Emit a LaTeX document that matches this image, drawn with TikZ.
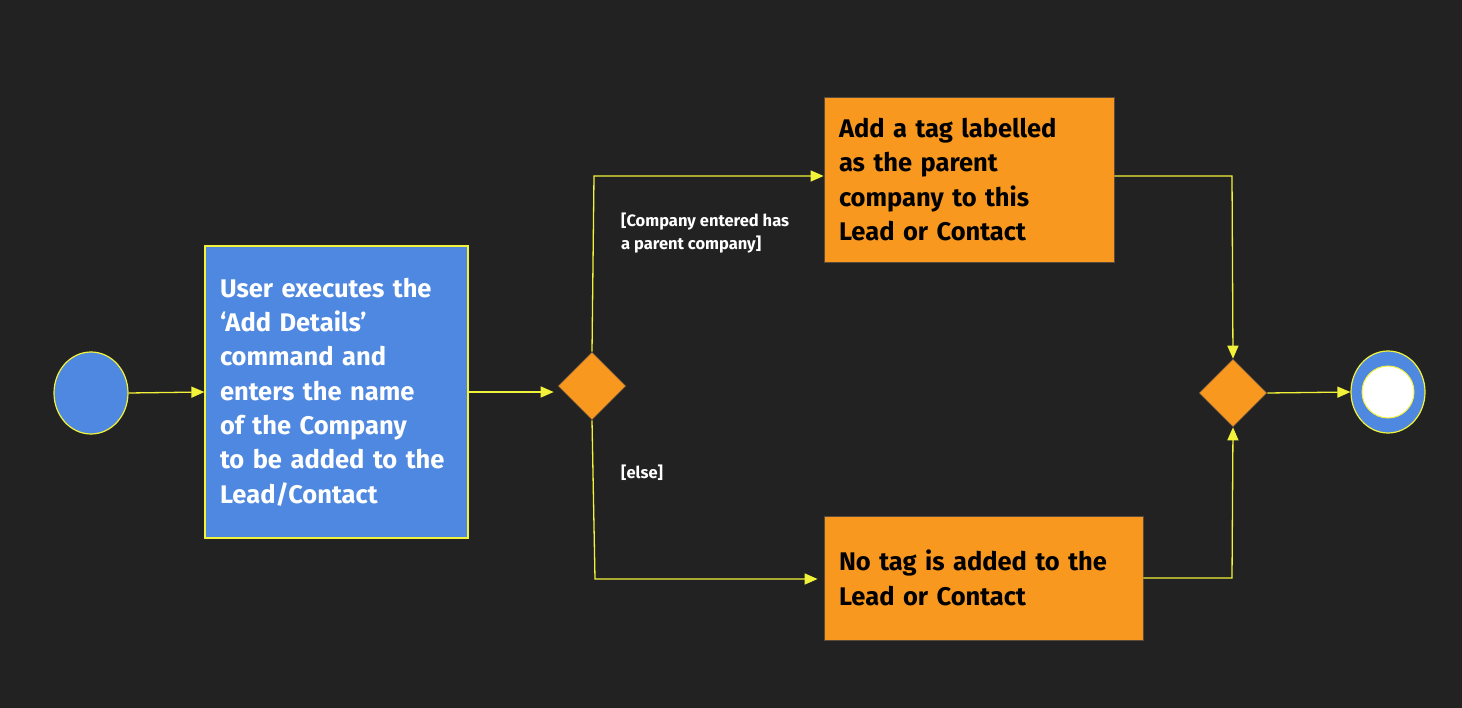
\documentclass[tikz,border=0pt]{standalone}
\usepackage{fontspec}
\setmainfont{Fira Sans}
\usetikzlibrary{arrows.meta,shapes.geometric}
\definecolor{bgc}{HTML}{222222}
\definecolor{ylw}{HTML}{F2F23A}
\definecolor{blu}{HTML}{4F88E0}
\definecolor{org}{HTML}{F8981F}
\definecolor{edg}{HTML}{5A4A3A}
\tikzset{
  flow/.style={draw=ylw, line width=1.3pt, -{Triangle[length=13pt,width=11pt]}},
  actblue/.style={draw=ylw, line width=1.2pt, fill=blu, text=white, align=left, inner xsep=15pt, font=\bfseries\fontsize{25.5}{34.3}\selectfont},
  actorg/.style={draw=edg, line width=0.8pt, fill=org, text=black, align=left, inner xsep=15pt, font=\bfseries\fontsize{25.5}{34.3}\selectfont},
  decision/.style={diamond, fill=org, draw=edg, line width=0.6pt, minimum width=68pt, minimum height=68pt, inner sep=0pt},
  guard/.style={text=white, align=left, inner sep=0pt, font=\bfseries\fontsize{16.5}{23}\selectfont},
}
\begin{document}
\begin{tikzpicture}[x=1pt,y=-1pt]
\fill[bgc] (0,0) rectangle (1462,708);
\useasboundingbox (0,0) rectangle (1462,708);
% nodes
\node[ellipse, draw=ylw, line width=1.2pt, fill=blu, minimum width=74pt, minimum height=82pt, inner sep=0pt] (start) at (91,393) {};
\node[actblue, text width=233pt, minimum height=292pt] (user) at (336.5,392) {User executes the\\`Add Details'\\command and\\enters the name\\of the Company\\to be added to the\\Lead/Contact};
\node[decision] (d1) at (592,386) {};
\node[actorg, text width=260pt, minimum height=165pt] (addtag) at (969,179.5) {Add a tag labelled\\as the parent\\company to this\\Lead or Contact};
\node[actorg, text width=289pt, minimum height=124pt] (notag) at (983.5,578) {No tag is added to the\\Lead or Contact};
\node[decision] (d2) at (1233,393) {};
\node[ellipse, draw=ylw, line width=1.2pt, fill=blu, minimum width=74pt, minimum height=82pt, inner sep=0pt] (end) at (1388,392) {};
\node[circle, draw=ylw, line width=1pt, fill=white, minimum size=52pt, inner sep=0pt] (endin) at (end.center) {};
\node[guard, anchor=north west] (g1) at (621,213) {[Company entered has\\a parent company]};
\node[guard, anchor=north west] (g2) at (621,465) {[else]};
% coordinates
\coordinate (c1) at (594,176);
\coordinate (c2) at (595,579);
\coordinate (c3) at (1232,176);
\coordinate (c4) at (1232,578);
% connectors
\draw[flow] (start.east) -- (user.west);
\draw[flow] (user.east) -- ([xshift=-4pt]user.east -| d1.west);
\draw[flow] (d1.north) -- (c1) -- (c1 -| addtag.west);
\draw[flow] (d1.south) -- (c2) -- ([xshift=-6pt]c2 -| notag.west);
\draw[flow] (addtag.east |- c3) -- (c3) -- (d2.north);
\draw[flow] (notag.east |- c4) -- (c4) -- (d2.south);
\draw[flow] (d2.east) -- (end.west);
\end{tikzpicture}
\end{document}
